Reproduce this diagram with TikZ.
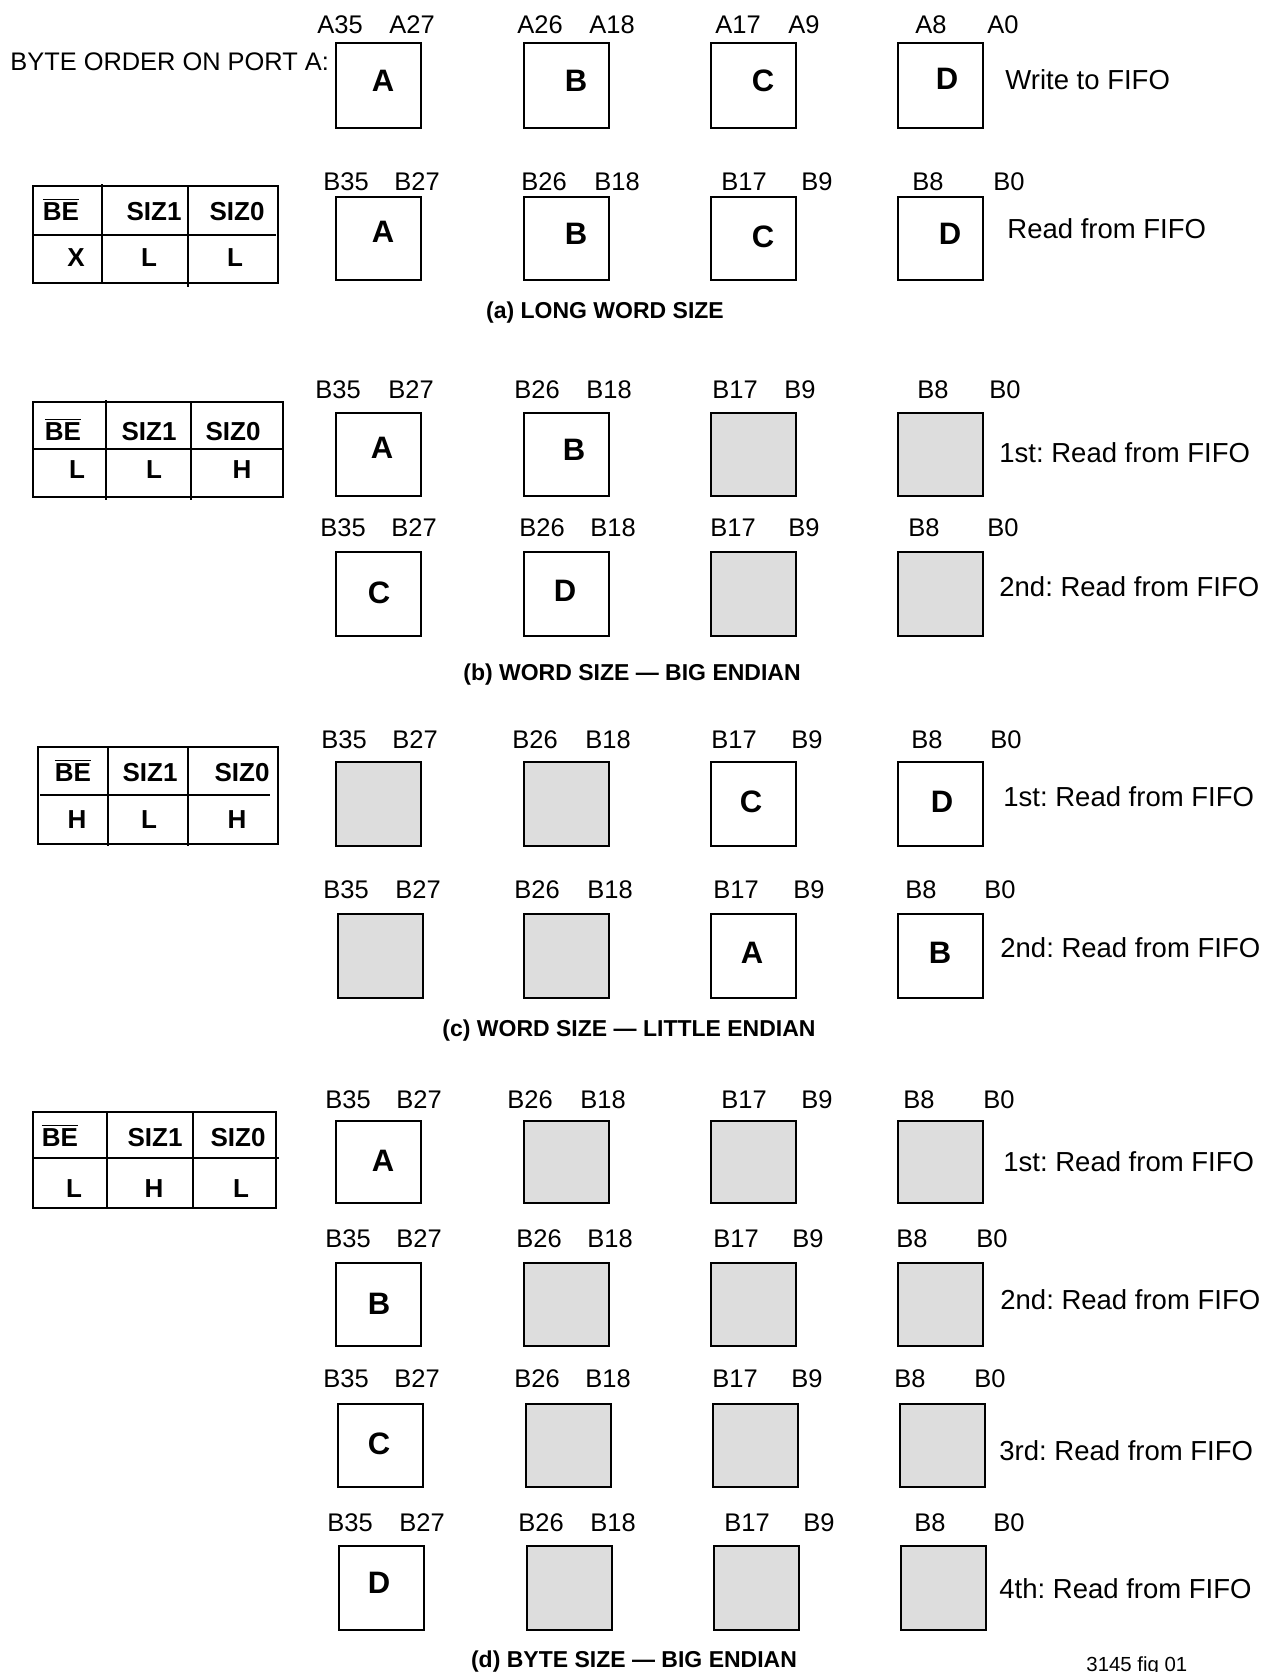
\documentclass[tikz,border=0pt]{standalone}
\usepackage{fontspec}
\setmainfont{Liberation Sans}
\usepackage{xcolor, tikz}
\definecolor{bytegrey}{RGB}{221,221,221}
\frenchspacing

\begin{document}
\begin{tikzpicture}[x=0.5pt, y=0.5pt, yscale=-1, xscale=1,
  bytebox/.style={draw, line width=1pt},
  voidbox/.style={draw, line width=1pt, fill=bytegrey},
  tblline/.style={line width=0.75pt},
  tblsep/.style={line width=1pt},
  bitlbl/.style={font=\fontsize{12.75}{14}\selectfont, inner sep=0pt, text height=9.13pt, text depth=0pt, anchor=center},
  bytetxt/.style={font=\fontsize{15.5}{17}\selectfont\bfseries, inner sep=0pt, text height=11.1pt, text depth=0pt, anchor=center},
  fifotxt/.style={font=\fontsize{13.75}{15}\selectfont, inner sep=0pt, text height=9.85pt, text depth=0pt, anchor=west},
  tbltxt/.style={font=\fontsize{13}{15}\selectfont\bfseries, inner sep=0pt, text height=9.3pt, text depth=0pt, anchor=center},
  captxt/.style={font=\fontsize{11.5}{13}\selectfont\bfseries, inner sep=0pt, text height=8.23pt, text depth=0pt, anchor=center}]
\useasboundingbox (0, 0) rectangle (1266, 1672);
%Boxes (a)
\draw [bytebox] (336, 43) rectangle (421, 128);
\draw [bytebox] (524, 43) rectangle (609, 128);
\draw [bytebox] (711, 43) rectangle (796, 128);
\draw [bytebox] (898, 43) rectangle (983, 128);
\draw [bytebox] (336, 197) rectangle (421, 280);
\draw [bytebox] (524, 197) rectangle (609, 280);
\draw [bytebox] (711, 197) rectangle (796, 280);
\draw [bytebox] (898, 197) rectangle (983, 280);
%Boxes (b)
\draw [bytebox] (336, 413) rectangle (421, 496);
\draw [bytebox] (524, 413) rectangle (609, 496);
\draw [voidbox] (711, 413) rectangle (796, 496);
\draw [voidbox] (898, 413) rectangle (983, 496);
\draw [bytebox] (336, 552) rectangle (421, 636);
\draw [bytebox] (524, 552) rectangle (609, 636);
\draw [voidbox] (711, 552) rectangle (796, 636);
\draw [voidbox] (898, 552) rectangle (983, 636);
%Boxes (c)
\draw [voidbox] (336, 762) rectangle (421, 846);
\draw [voidbox] (524, 762) rectangle (609, 846);
\draw [bytebox] (711, 762) rectangle (796, 846);
\draw [bytebox] (898, 762) rectangle (983, 846);
\draw [voidbox] (338, 914) rectangle (423, 998);
\draw [voidbox] (524, 914) rectangle (609, 998);
\draw [bytebox] (711, 914) rectangle (796, 998);
\draw [bytebox] (898, 914) rectangle (983, 998);
%Boxes (d)
\draw [bytebox] (336, 1121) rectangle (421, 1203);
\draw [voidbox] (524, 1121) rectangle (609, 1203);
\draw [voidbox] (711, 1121) rectangle (796, 1203);
\draw [voidbox] (898, 1121) rectangle (983, 1203);
\draw [bytebox] (336, 1263) rectangle (421, 1346);
\draw [voidbox] (524, 1263) rectangle (609, 1346);
\draw [voidbox] (711, 1263) rectangle (796, 1346);
\draw [voidbox] (898, 1263) rectangle (983, 1346);
\draw [bytebox] (338, 1404) rectangle (423, 1487);
\draw [voidbox] (526, 1404) rectangle (611, 1487);
\draw [voidbox] (713, 1404) rectangle (798, 1487);
\draw [voidbox] (900, 1404) rectangle (985, 1487);
\draw [bytebox] (339, 1546) rectangle (424, 1630);
\draw [voidbox] (527, 1546) rectangle (612, 1630);
\draw [voidbox] (714, 1546) rectangle (799, 1630);
\draw [voidbox] (901, 1546) rectangle (986, 1630);
%Tables
\draw [tblline] (33, 186) rectangle (278, 283);
\draw [tblline] (33, 235) -- (276, 235);
\draw [tblsep] (102, 184) -- (102, 283);
\draw [tblsep] (188, 186) -- (188, 287);
\draw [tblline] (33, 402) rectangle (283, 497);
\draw [tblline] (33, 449) -- (283, 449);
\draw [tblsep] (106, 400) -- (106, 500);
\draw [tblsep] (191, 402) -- (191, 500);
\draw [tblline] (38, 747) rectangle (278, 844);
\draw [tblline] (40, 795) -- (270, 795);
\draw [tblsep] (108, 746) -- (108, 846);
\draw [tblsep] (188, 746) -- (188, 846);
\draw [tblline] (33, 1112) rectangle (276, 1208);
\draw [tblline] (33, 1158) -- (279, 1158);
\draw [tblsep] (107, 1112) -- (107, 1208);
\draw [tblsep] (193, 1112) -- (193, 1209);
%Text
\draw (10, 61) node [fifotxt, font=\fontsize{12.7}{14}\selectfont] (porta) {BYTE ORDER ON PORT A:};
\draw (340, 24) node [bitlbl] (a1c1h) {A35};
\draw (412, 24) node [bitlbl] (a1c1l) {A27};
\draw (540, 24) node [bitlbl] (a1c2h) {A26};
\draw (612, 24) node [bitlbl] (a1c2l) {A18};
\draw (738, 24) node [bitlbl] (a1c3h) {A17};
\draw (804, 24) node [bitlbl] (a1c3l) {A9};
\draw (931, 24) node [bitlbl] (a1c4h) {A8};
\draw (1003, 24) node [bitlbl] (a1c4l) {A0};
\draw (383, 80) node [bytetxt] (a1A) {A};
\draw (576, 80) node [bytetxt] (a1B) {B};
\draw (763, 80) node [bytetxt] (a1C) {C};
\draw (947, 78) node [bytetxt] (a1D) {D};
\draw (1005, 80) node [fifotxt] (a1op) {Write to FIFO};
\draw (346, 181) node [bitlbl] (a2c1h) {B35};
\draw (417, 181) node [bitlbl] (a2c1l) {B27};
\draw (544, 181) node [bitlbl] (a2c2h) {B26};
\draw (617, 181) node [bitlbl] (a2c2l) {B18};
\draw (744, 181) node [bitlbl] (a2c3h) {B17};
\draw (817, 181) node [bitlbl] (a2c3l) {B9};
\draw (928, 181) node [bitlbl] (a2c4h) {B8};
\draw (1009, 181) node [bitlbl] (a2c4l) {B0};
\draw (383, 231) node [bytetxt] (a2A) {A};
\draw (576, 233) node [bytetxt] (a2B) {B};
\draw (763, 236) node [bytetxt] (a2C) {C};
\draw (950, 233) node [bytetxt] (a2D) {D};
\draw (1007, 229) node [fifotxt] (a2op) {Read from FIFO};
\draw (61, 211) node [tbltxt] (tabe) {$\overline{\mbox{\bfseries BE}}$};
\draw (154, 211) node [tbltxt] (tasa) {SIZ1};
\draw (237, 211) node [tbltxt] (tasb) {SIZ0};
\draw (76, 257) node [tbltxt] (tabev) {X};
\draw (149, 257) node [tbltxt] (tasav) {L};
\draw (235, 257) node [tbltxt] (tasbv) {L};
\draw (605, 310) node [captxt] (capa) {(a) LONG WORD SIZE};
\draw (338, 389) node [bitlbl] (b1c1h) {B35};
\draw (411, 389) node [bitlbl] (b1c1l) {B27};
\draw (537, 389) node [bitlbl] (b1c2h) {B26};
\draw (609, 389) node [bitlbl] (b1c2l) {B18};
\draw (735, 389) node [bitlbl] (b1c3h) {B17};
\draw (800, 389) node [bitlbl] (b1c3l) {B9};
\draw (933, 389) node [bitlbl] (b1c4h) {B8};
\draw (1005, 389) node [bitlbl] (b1c4l) {B0};
\draw (382, 447) node [bytetxt] (b1A) {A};
\draw (574, 449) node [bytetxt] (b1B) {B};
\draw (999, 453) node [fifotxt] (b1op) {1st: Read from FIFO};
\draw (343, 527) node [bitlbl] (b2c1h) {B35};
\draw (414, 527) node [bitlbl] (b2c1l) {B27};
\draw (542, 527) node [bitlbl] (b2c2h) {B26};
\draw (613, 527) node [bitlbl] (b2c2l) {B18};
\draw (733, 527) node [bitlbl] (b2c3h) {B17};
\draw (804, 527) node [bitlbl] (b2c3l) {B9};
\draw (924, 527) node [bitlbl] (b2c4h) {B8};
\draw (1003, 527) node [bitlbl] (b2c4l) {B0};
\draw (379, 592) node [bytetxt] (b2C) {C};
\draw (565, 590) node [bytetxt] (b2D) {D};
\draw (999, 587) node [fifotxt] (b2op) {2nd: Read from FIFO};
\draw (63, 431) node [tbltxt] (tbbe) {$\overline{\mbox{\bfseries BE}}$};
\draw (149, 431) node [tbltxt] (tbsa) {SIZ1};
\draw (233, 431) node [tbltxt] (tbsb) {SIZ0};
\draw (77, 469) node [tbltxt] (tbbev) {L};
\draw (154, 469) node [tbltxt] (tbsav) {L};
\draw (242, 469) node [tbltxt] (tbsbv) {H};
\draw (632, 672) node [captxt] (capb) {(b) WORD SIZE --- BIG ENDIAN};
\draw (344, 739) node [bitlbl] (c1c1h) {B35};
\draw (415, 739) node [bitlbl] (c1c1l) {B27};
\draw (535, 739) node [bitlbl] (c1c2h) {B26};
\draw (608, 739) node [bitlbl] (c1c2l) {B18};
\draw (734, 739) node [bitlbl] (c1c3h) {B17};
\draw (807, 739) node [bitlbl] (c1c3l) {B9};
\draw (927, 739) node [bitlbl] (c1c4h) {B8};
\draw (1006, 739) node [bitlbl] (c1c4l) {B0};
\draw (751, 801) node [bytetxt] (c1C) {C};
\draw (942, 801) node [bytetxt] (c1D) {D};
\draw (1003, 797) node [fifotxt] (c1op) {1st: Read from FIFO};
\draw (346, 889) node [bitlbl] (c2c1h) {B35};
\draw (418, 889) node [bitlbl] (c2c1l) {B27};
\draw (537, 889) node [bitlbl] (c2c2h) {B26};
\draw (610, 889) node [bitlbl] (c2c2l) {B18};
\draw (736, 889) node [bitlbl] (c2c3h) {B17};
\draw (809, 889) node [bitlbl] (c2c3l) {B9};
\draw (921, 889) node [bitlbl] (c2c4h) {B8};
\draw (1000, 889) node [bitlbl] (c2c4l) {B0};
\draw (752, 952) node [bytetxt] (c2A) {A};
\draw (940, 952) node [bytetxt] (c2B) {B};
\draw (1000, 948) node [fifotxt] (c2op) {2nd: Read from FIFO};
\draw (73, 772) node [tbltxt] (tcbe) {$\overline{\mbox{\bfseries BE}}$};
\draw (150, 772) node [tbltxt] (tcsa) {SIZ1};
\draw (242, 772) node [tbltxt] (tcsb) {SIZ0};
\draw (77, 819) node [tbltxt] (tcbev) {H};
\draw (149, 819) node [tbltxt] (tcsav) {L};
\draw (237, 819) node [tbltxt] (tcsbv) {H};
\draw (629, 1028) node [captxt] (capc) {(c) WORD SIZE --- LITTLE ENDIAN};
\draw (348, 1099) node [bitlbl] (d1c1h) {B35};
\draw (419, 1099) node [bitlbl] (d1c1l) {B27};
\draw (530, 1099) node [bitlbl] (d1c2h) {B26};
\draw (603, 1099) node [bitlbl] (d1c2l) {B18};
\draw (744, 1099) node [bitlbl] (d1c3h) {B17};
\draw (817, 1099) node [bitlbl] (d1c3l) {B9};
\draw (919, 1099) node [bitlbl] (d1c4h) {B8};
\draw (999, 1099) node [bitlbl] (d1c4l) {B0};
\draw (383, 1160) node [bytetxt] (d1A) {A};
\draw (1003, 1162) node [fifotxt] (d1op) {1st: Read from FIFO};
\draw (348, 1238) node [bitlbl] (d2c1h) {B35};
\draw (419, 1238) node [bitlbl] (d2c1l) {B27};
\draw (539, 1238) node [bitlbl] (d2c2h) {B26};
\draw (610, 1238) node [bitlbl] (d2c2l) {B18};
\draw (736, 1238) node [bitlbl] (d2c3h) {B17};
\draw (808, 1238) node [bitlbl] (d2c3l) {B9};
\draw (912, 1238) node [bitlbl] (d2c4h) {B8};
\draw (992, 1238) node [bitlbl] (d2c4l) {B0};
\draw (379, 1303) node [bytetxt] (d2B) {B};
\draw (1000, 1300) node [fifotxt] (d2op) {2nd: Read from FIFO};
\draw (346, 1378) node [bitlbl] (d3c1h) {B35};
\draw (417, 1378) node [bitlbl] (d3c1l) {B27};
\draw (537, 1378) node [bitlbl] (d3c2h) {B26};
\draw (608, 1378) node [bitlbl] (d3c2l) {B18};
\draw (735, 1378) node [bitlbl] (d3c3h) {B17};
\draw (807, 1378) node [bitlbl] (d3c3l) {B9};
\draw (910, 1378) node [bitlbl] (d3c4h) {B8};
\draw (990, 1378) node [bitlbl] (d3c4l) {B0};
\draw (379, 1443) node [bytetxt] (d3C) {C};
\draw (999, 1451) node [fifotxt] (d3op) {3rd: Read from FIFO};
\draw (350, 1522) node [bitlbl] (d4c1h) {B35};
\draw (422, 1522) node [bitlbl] (d4c1l) {B27};
\draw (541, 1522) node [bitlbl] (d4c2h) {B26};
\draw (613, 1522) node [bitlbl] (d4c2l) {B18};
\draw (747, 1522) node [bitlbl] (d4c3h) {B17};
\draw (819, 1522) node [bitlbl] (d4c3l) {B9};
\draw (930, 1522) node [bitlbl] (d4c4h) {B8};
\draw (1009, 1522) node [bitlbl] (d4c4l) {B0};
\draw (379, 1582) node [bytetxt] (d4D) {D};
\draw (999, 1589) node [fifotxt] (d4op) {4th: Read from FIFO};
\draw (60, 1137) node [tbltxt] (tdbe) {$\overline{\mbox{\bfseries BE}}$};
\draw (155, 1137) node [tbltxt] (tdsa) {SIZ1};
\draw (238, 1137) node [tbltxt] (tdsb) {SIZ0};
\draw (74, 1188) node [tbltxt] (tdbev) {L};
\draw (154, 1188) node [tbltxt] (tdsav) {H};
\draw (241, 1188) node [tbltxt] (tdsbv) {L};
\draw (634, 1659) node [captxt] (capd) {(d) BYTE SIZE --- BIG ENDIAN};
\draw (1086, 1671) node [fifotxt, anchor=base west, font=\fontsize{10.2}{12}\selectfont, text height=7.3pt] (figno) {3145 fig 01};
\end{tikzpicture}
\end{document}
